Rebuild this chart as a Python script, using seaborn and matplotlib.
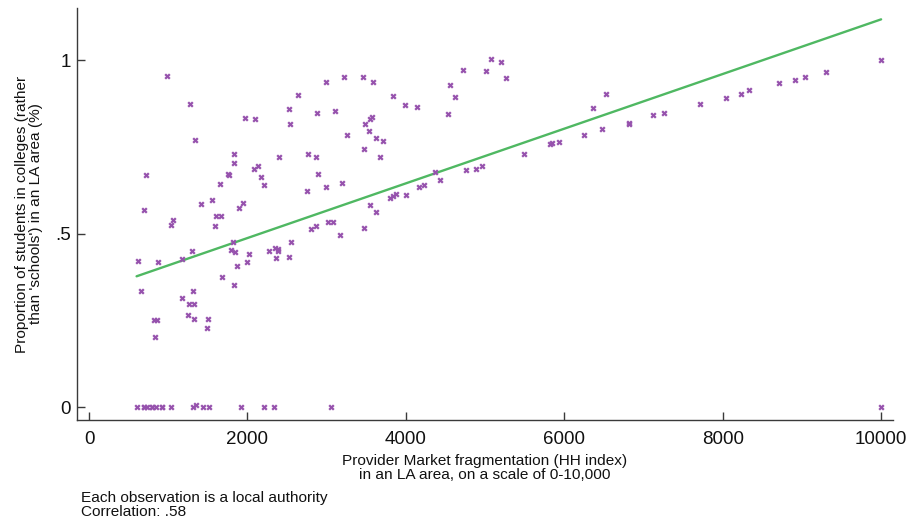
import numpy as np
import pandas as pd
import matplotlib
matplotlib.use("Agg")
import matplotlib.pyplot as plt
import seaborn as sns

# HH index of provider market fragmentation per local authority (0-10,000)
hh_index = [
    985, 1280, 1963, 2097, 2636, 2527, 2535, 2877, 1339, 724,
    1836, 1824, 1748, 1765, 2081, 2135, 2165, 2215, 2396, 2759,
    2868, 2885, 2746, 1659, 1554, 1415, 699, 1946, 1899, 1601,
    1668, 1065, 1032, 1592, 2868, 2796,
    1815, 2544, 615, 872, 1171, 1305, 1790, 1845, 2021, 2270,
    2350, 2388, 2384, 2366, 2527, 2000, 1874, 1677, 1836, 661,
    1171, 1318, 1259, 1327, 1255, 1327, 1499, 1487, 821, 855, 838,
    2990, 3218, 3453, 3588, 3832, 3984, 4144, 4557, 4725, 4624,
    4527, 5016, 5079, 5202, 5268, 3099, 3576, 3550, 3487, 3533,
    3251, 3622, 3714, 3475, 3673, 2990, 3192, 4371, 4435, 4755,
    4881, 4961, 5487, 5815, 4169, 4233, 4001, 3803, 3837, 3870,
    3550, 3617, 3020, 3074, 3171, 3471,
    5846, 5938, 6250, 6359, 6528, 6473, 6814, 6814, 7117, 7261,
    7716, 8036, 8229, 8330, 8714, 8907, 9037, 9299, 10000,
    600, 688, 729, 799, 841, 925, 1035, 1318, 1351, 1433,
    1509, 1919, 2210, 2340, 3054, 10000,
    688, 799, 925,
]

# Share of students in colleges rather than schools, same order
college_share = [
    0.954, 0.872, 0.834, 0.830, 0.899, 0.859, 0.816, 0.847, 0.770, 0.670,
    0.730, 0.703, 0.672, 0.669, 0.685, 0.694, 0.663, 0.640, 0.722, 0.729,
    0.721, 0.672, 0.624, 0.642, 0.597, 0.586, 0.567, 0.589, 0.573, 0.552,
    0.551, 0.539, 0.525, 0.523, 0.522, 0.513,
    0.477, 0.477, 0.422, 0.419, 0.428, 0.451, 0.453, 0.447, 0.443, 0.449,
    0.459, 0.456, 0.449, 0.430, 0.433, 0.420, 0.406, 0.375, 0.353, 0.336,
    0.316, 0.334, 0.297, 0.299, 0.265, 0.256, 0.255, 0.230, 0.252, 0.252, 0.204,
    0.938, 0.951, 0.951, 0.936, 0.897, 0.871, 0.866, 0.927, 0.971, 0.893,
    0.846, 0.969, 1.002, 0.993, 0.947, 0.854, 0.835, 0.831, 0.816, 0.795,
    0.785, 0.776, 0.767, 0.744, 0.721, 0.635, 0.645, 0.678, 0.654, 0.683,
    0.687, 0.695, 0.729, 0.758, 0.635, 0.639, 0.612, 0.602, 0.609, 0.615,
    0.583, 0.563, 0.535, 0.535, 0.496, 0.517,
    0.761, 0.764, 0.785, 0.863, 0.901, 0.801, 0.820, 0.816, 0.843, 0.848,
    0.874, 0.891, 0.903, 0.913, 0.933, 0.943, 0.951, 0.965, 1.000,
    0.0, 0.0, 0.0, 0.0, 0.0, 0.0, 0.0, 0.0, 0.007, 0.0,
    0.0, 0.0, 0.0, 0.0, 0.0, 0.0,
    0.0, 0.0, 0.0,
]

x_ticks = [0, 2000, 4000, 6000, 8000, 10000]
y_ticks = [0, 0.5, 1]
y_tick_labels = ["0", ".5", "1"]

df = pd.DataFrame({"hh": hh_index, "share": college_share})

sns.set_theme(style="white")
plt.rcParams["font.family"] = ["Liberation Sans", "DejaVu Sans"]

fig = plt.figure(figsize=(9.08, 5.21), dpi=100)
ax = fig.add_axes([0.0843, 0.1939, 0.8989, 0.7907])

purple = "#9652ad"
green = "#4fb862"

# Local authorities as small crosses, with a straight-line OLS fit on top
sns.scatterplot(data=df, x="hh", y="share", marker="x", s=11,
                color=purple, linewidth=1.6, ax=ax, zorder=3)
sns.regplot(data=df, x="hh", y="share", scatter=False, ci=None,
            truncate=True, color=green, line_kws={"linewidth": 1.7},
            ax=ax)

ax.set_xlim(-158, 10147)
ax.set_ylim(-0.036, 1.1496)
ax.set_xticks(x_ticks)
ax.set_xticklabels([str(t) for t in x_ticks])
ax.set_yticks(y_ticks)
ax.set_yticklabels(y_tick_labels)

for side in ("top", "right"):
    ax.spines[side].set_visible(False)
for side in ("left", "bottom"):
    ax.spines[side].set_color("#3a3a3a")
    ax.spines[side].set_linewidth(1.0)

ax.tick_params(axis="x", direction="in", length=5.5, width=1.0,
               color="#3a3a3a", pad=8, labelsize=13.5, labelcolor="#111111")
ax.tick_params(axis="y", direction="in", length=5.5, width=1.0,
               color="#3a3a3a", pad=4, labelsize=13.5, labelcolor="#111111")
ax.tick_params(bottom=True, left=True)

ax.set_xlabel("Provider Market fragmentation (HH index)\n"
              "in an LA area, on a scale of 0-10,000",
              fontsize=11.1, linespacing=1.0, color="#111111", labelpad=4)
ax.set_ylabel("Proportion of students in colleges (rather\n"
              "than 'schools') in an LA area (%)",
              fontsize=11.1, linespacing=1.0, color="#111111", labelpad=8.5)

fig.text(0.0892, 1 - 502 / 521, "Each observation is a local authority",
         fontsize=11.1, va="baseline", ha="left", color="#111111")
fig.text(0.0892, 1 - 516 / 521, "Correlation: .58",
         fontsize=11.1, va="baseline", ha="left", color="#111111")

fig.savefig("out.png", dpi=100)
